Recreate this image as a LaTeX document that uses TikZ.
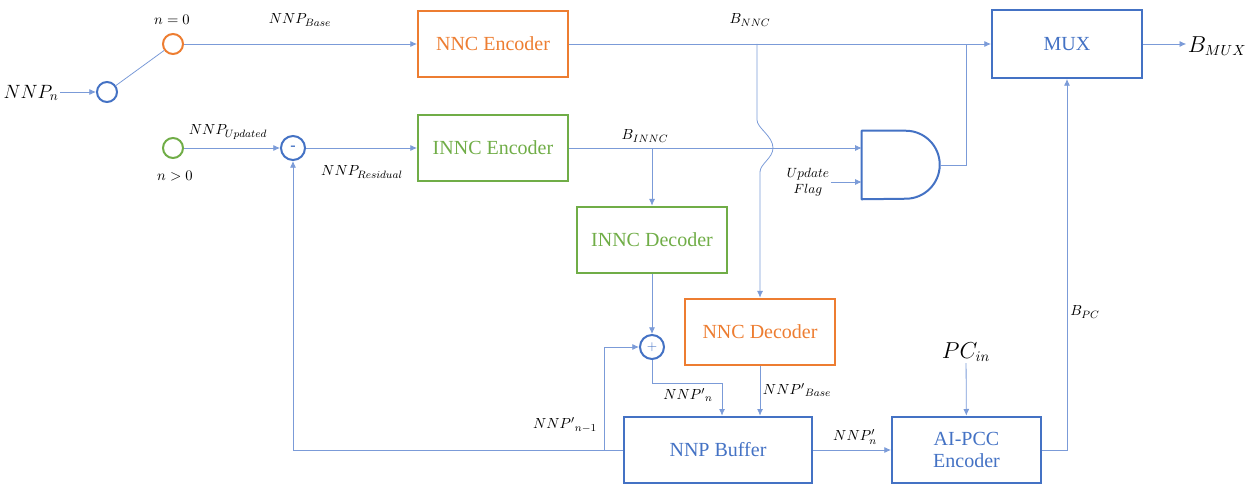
\documentclass[tikz,border=0pt]{standalone}
\usepackage{fontspec}
\setmainfont{Liberation Serif}
\usetikzlibrary{arrows.meta}

\definecolor{boxblue}{HTML}{4472C4}
\definecolor{boxorange}{HTML}{ED7D31}
\definecolor{boxgreen}{HTML}{70AD47}
\definecolor{wireblue}{HTML}{7B9BD8}

\tikzset{
    blk/.style={draw, line width=1.5pt, minimum width=112.5pt, minimum height=50pt, inner sep=0pt, font=\fontsize{15}{17}\selectfont},
    sw/.style={circle, draw, line width=1.5pt, minimum size=15pt, inner sep=0pt},
    wire/.style={wireblue, line width=0.6pt},
    arr/.style={wire, -{Latex[length=5pt,width=4.5pt]}},
    lbl/.style={inner sep=1pt, font=\fontsize{11}{13}\selectfont},
    biglbl/.style={inner sep=1pt, font=\fontsize{16}{19}\selectfont}
}

\begin{document}
\begin{tikzpicture}[x=0.75pt, y=-0.75pt]
        \useasboundingbox (0,0) rectangle (1252,484);

        % switch
        \node[biglbl, font=\fontsize{14}{17}\selectfont] (nnpn) at (31,93) {$NNP_n$};
        \node[sw, boxblue] (swin) at (107,92) {};
        \node[sw, boxorange] (swbase) at (173,44) {};
        \node[sw, boxgreen] (swupd) at (173,148) {};
        \node[sw, boxblue, minimum size=18pt] (minus) at (293,148) {\fontsize{12}{12}\selectfont\bfseries -};

        % coders
        \node[blk, boxorange] (nncenc) at (493,44) {NNC Encoder};
        \node[blk, boxgreen] (innc) at (493,148) {INNC Encoder};
        \node[blk, boxgreen] (inncdec) at (652,240) {INNC Decoder};
        \node[blk, boxorange] (nncdec) at (760,332) {NNC Decoder};
        \node[blk, boxblue, minimum height=51pt] (mux) at (1067,44) {MUX};
        \node[blk, boxblue, minimum width=141pt] (buffer) at (718,450) {NNP Buffer};
        \node[blk, boxblue, minimum width=111.75pt, align=center] (aipcc) at (966.5,450) {AI-PCC\\Encoder};
        \node[sw, boxblue, minimum size=18pt] (plus) at (652,347) {$+$};

        % and gate
        \node[minimum width=58.5pt, minimum height=51pt, inner sep=0pt] (andg) at (901,165) {};
        \draw[boxblue, line width=1.5pt, line join=round] (andg.north west) -- ++(44,0)
            arc[start angle=-90, end angle=90, radius=34] -- (andg.south west) -- cycle;

        % labels
        \node[lbl] (lzero) at (172,20) {$n=0$};
        \node[lbl] (lbase) at (300,20) {$NNP_{Base}$};
        \node[lbl] (lbnnc) at (750,20) {$B_{NNC}$};
        \node[lbl] (lupd) at (228,132) {$NNP_{Updated}$};
        \node[lbl] (lpos) at (175,176) {$n>0$};
        \node[lbl] (lres) at (362,172) {$NNP_{Residual}$};
        \node[lbl] (lbinnc) at (645,136) {$B_{INNC}$};
        \node[lbl, font=\fontsize{10}{12}\selectfont, align=center] (flag) at (808,182) {$Update$\\$Flag$};
        \node[lbl] (lnew) at (688,395) {$NNP'{}_{n}$};
        \node[lbl] (lnbase) at (797,390) {$NNP'{}_{Base}$};
        \node[lbl] (lold) at (565,425) {$NNP'{}_{n-1}$};
        \node[lbl] (lpcc) at (855,437) {$NNP'_{n}$};
        \node[lbl] (lbpc) at (1085,312) {$B_{PC}$};
        \node[biglbl] (pcin) at (966,352) {$PC_{in}$};
        \node[biglbl] (bmux) at (1217,46) {$B_{MUX}$};

        \coordinate (bnncsplit) at (757,44);
        \coordinate (bnncjoin) at (966,44);
        \coordinate (binncsplit) at (652,148);
        \coordinate (fbsplit) at (604,450);
        \coordinate (andout) at (940,165);

        % wires
        \draw[arr] (nnpn.east |- swin) -- (swin);
        \draw[wire] (swin) -- (swbase);
        \draw[arr] (swbase) -- (nncenc);
        \draw[arr] (nncenc) -- (mux);
        \draw[arr] (mux.east) -- (mux.east -| bmux.west);
        \draw[arr] (bnncsplit) -- ++(0,76) .. controls +(0,8) and +(0,-12) .. ++(16,28)
            .. controls +(0,10) and +(0,-8) .. ++(-13,24) -- (nncdec.north);
        \draw[arr] (swupd) -- (minus);
        \draw[arr] (minus) -- (innc);
        \draw[arr] (innc.east) -- (innc.east -| andg.west);
        \draw[arr] (binncsplit) -- (inncdec);
        \draw[arr] (flag.east) -- (flag.east -| andg.west);
        \draw[wire] (andout) -| (bnncjoin);
        \draw[arr] (inncdec) -- (plus);
        \draw[arr] (plus.south) -- ++(0,23) -| ([xshift=3pt]buffer.north);
        \draw[arr] (nncdec.south) -- (nncdec.south |- buffer.north);
        \draw[arr] (buffer.west) -| (minus.south);
        \draw[arr] (fbsplit) |- (plus.west);
        \draw[arr] (buffer) -- (aipcc);
        \draw[arr] (pcin) -- (aipcc);
        \draw[arr] (aipcc.east) -| (mux.south);
    \end{tikzpicture}
\end{document}
